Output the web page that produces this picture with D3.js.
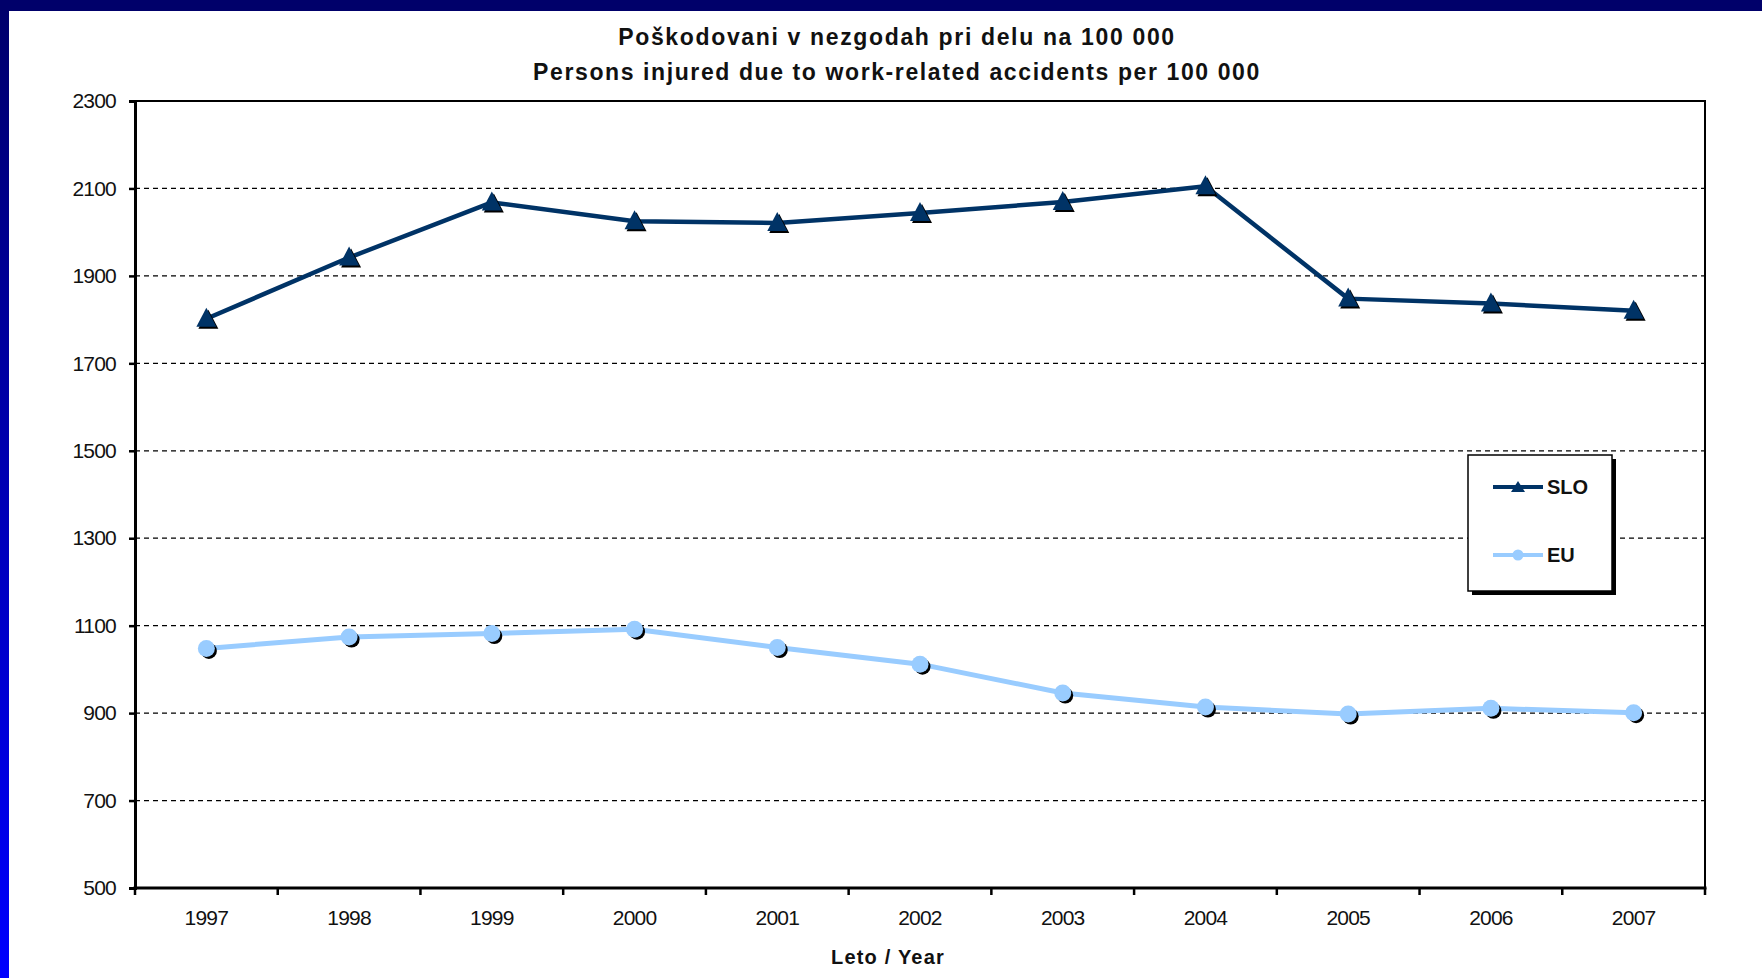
<!DOCTYPE html>
<html>
<head>
<meta charset="utf-8">
<script src="https://cdn.jsdelivr.net/npm/d3@7"></script>
<style>
  html, body { margin: 0; padding: 0; background: #ffffff; }
  svg { display: block; }
  text { font-family: "Liberation Sans", Arial, sans-serif; }
</style>
</head>
<body>
<svg id="chart" width="1762" height="978"></svg>
<script>
const years = ["1997","1998","1999","2000","2001","2002","2003","2004","2005","2006","2007"];
const sloValues = [1802, 1942, 2068, 2025, 2021, 2044, 2069, 2105, 1848, 1837, 1820];
const euValues  = [1048, 1074, 1082, 1092, 1050, 1012, 946, 914, 898, 911, 901];
const yTicks = [500, 700, 900, 1100, 1300, 1500, 1700, 1900, 2100, 2300];
const seriesNames = ["SLO", "EU"];
const titleLines = ["Poškodovani v nezgodah pri delu na 100 000", "Persons injured due to work-related accidents per 100 000"];
const xAxisTitle = "Leto / Year";

const W = 1762, H = 978;
const M = { left: 135, right: 1705, top: 101, bottom: 888 };
const svg = d3.select("#chart");

// background frame
const defs = svg.append("defs");
const grad = defs.append("linearGradient").attr("id", "leftGrad").attr("x1", 0).attr("y1", 0).attr("x2", 0).attr("y2", 1);
grad.append("stop").attr("offset", "0%").attr("stop-color", "#00006a");
grad.append("stop").attr("offset", "100%").attr("stop-color", "#0000ff");
svg.append("rect").attr("x", 0).attr("y", 0).attr("width", W).attr("height", H).attr("fill", "#ffffff");
svg.append("rect").attr("x", 0).attr("y", 0).attr("width", 9).attr("height", H).attr("fill", "url(#leftGrad)");
svg.append("rect").attr("x", 0).attr("y", 0).attr("width", W).attr("height", 11).attr("fill", "#00006a");

const x = d3.scaleBand().domain(years).range([M.left, M.right]).padding(0);
const y = d3.scaleLinear().domain([500, 2300]).range([M.bottom, M.top]);
const cx = d => x(d) + x.bandwidth() / 2;

// gridlines
svg.append("g").selectAll("line").data(yTicks.filter(v => v !== 500 && v !== 2300)).join("line")
  .attr("x1", M.left).attr("x2", M.right)
  .attr("y1", d => y(d)).attr("y2", d => y(d))
  .attr("stroke", "#000").attr("stroke-width", 1.3).attr("stroke-dasharray", "5,4");

// plot border top/right
svg.append("path")
  .attr("d", `M${M.left},${y(2300)}H${M.right}V${M.bottom}`)
  .attr("fill", "none").attr("stroke", "#000").attr("stroke-width", 2);

// left axis
const yAxis = svg.append("g").attr("transform", `translate(${M.left},0)`)
  .call(d3.axisLeft(y).tickValues(yTicks).tickSize(6).tickPadding(13).tickFormat(d3.format("d")));
yAxis.select(".domain").attr("stroke", "#000").attr("stroke-width", 3);
yAxis.selectAll(".tick line").attr("stroke", "#000").attr("stroke-width", 2.5);
yAxis.selectAll("text").attr("font-size", 21).attr("fill", "#111").attr("font-family", "\"Liberation Sans\", Arial, sans-serif").attr("letter-spacing", -0.8);

// bottom axis
const xAxis = svg.append("g").attr("transform", `translate(0,${M.bottom})`)
  .call(d3.axisBottom(x).tickSize(0).tickPadding(22));
xAxis.select(".domain").attr("stroke", "#000").attr("stroke-width", 3).attr("d", `M${M.left - 1.5},0H${M.right + 1.5}`);
xAxis.selectAll("text").attr("font-size", 21).attr("fill", "#111").attr("font-family", "\"Liberation Sans\", Arial, sans-serif").attr("letter-spacing", -0.8);
const boundaries = years.map(d => x(d)).concat([x.range()[1]]);
xAxis.selectAll(".bt").data(boundaries).join("line").attr("class", "bt")
  .attr("x1", d => d).attr("x2", d => d).attr("y1", 0).attr("y2", 7)
  .attr("stroke", "#000").attr("stroke-width", 2.5);

// titles
svg.append("text").attr("x", 897).attr("y", 45).attr("text-anchor", "middle")
  .attr("font-size", 23).attr("font-weight", "bold").attr("fill", "#111").attr("letter-spacing", 1.65).text(titleLines[0]);
svg.append("text").attr("x", 897).attr("y", 80).attr("text-anchor", "middle")
  .attr("font-size", 23).attr("font-weight", "bold").attr("fill", "#111").attr("letter-spacing", 1.6).text(titleLines[1]);
svg.append("text").attr("x", 888).attr("y", 964).attr("text-anchor", "middle")
  .attr("font-size", 20).attr("font-weight", "bold").attr("fill", "#111").attr("letter-spacing", 1.2).text(xAxisTitle);

const sloColor = "#003366", euColor = "#99ccff";
const tri = "M0,-11L10,8L-10,8Z";
const line = d3.line().x((d, i) => cx(years[i])).y(d => y(d));

// EU series
svg.append("path").datum(euValues).attr("d", line).attr("fill", "none")
  .attr("stroke", euColor).attr("stroke-width", 5).attr("stroke-linejoin", "round");
const euG = svg.append("g");
euG.selectAll(".sh").data(euValues).join("circle").attr("class", "sh")
  .attr("cx", (d, i) => cx(years[i]) + 2.5).attr("cy", d => y(d) + 2.5).attr("r", 8).attr("fill", "#000");
euG.selectAll(".mk").data(euValues).join("circle").attr("class", "mk")
  .attr("cx", (d, i) => cx(years[i])).attr("cy", d => y(d)).attr("r", 8.5).attr("fill", euColor);

// SLO series
svg.append("path").datum(sloValues).attr("d", line).attr("fill", "none")
  .attr("stroke", sloColor).attr("stroke-width", 4.5).attr("stroke-linejoin", "round");
const sloG = svg.append("g");
sloG.selectAll(".sh").data(sloValues).join("path").attr("class", "sh")
  .attr("d", tri).attr("transform", (d, i) => `translate(${cx(years[i]) + 2},${y(d) + 2})`).attr("fill", "#000");
sloG.selectAll(".mk").data(sloValues).join("path").attr("class", "mk")
  .attr("d", tri).attr("transform", (d, i) => `translate(${cx(years[i])},${y(d)})`).attr("fill", sloColor);

// legend
const lg = svg.append("g");
lg.append("rect").attr("x", 1472).attr("y", 459).attr("width", 144).attr("height", 136).attr("fill", "#000");
lg.append("rect").attr("x", 1468).attr("y", 455).attr("width", 144).attr("height", 136)
  .attr("fill", "#fff").attr("stroke", "#000").attr("stroke-width", 1.5);
const legendItems = [
  { name: seriesNames[0], color: sloColor, yy: 487, kind: "tri" },
  { name: seriesNames[1], color: euColor, yy: 555, kind: "circ" }
];
legendItems.forEach(it => {
  lg.append("line").attr("x1", 1493).attr("x2", 1543).attr("y1", it.yy).attr("y2", it.yy)
    .attr("stroke", it.color).attr("stroke-width", 4);
  if (it.kind === "tri") {
    lg.append("path").attr("d", "M0,-6L7,5L-7,5Z").attr("transform", `translate(1518,${it.yy})`).attr("fill", it.color);
  } else {
    lg.append("circle").attr("cx", 1518).attr("cy", it.yy).attr("r", 5.5).attr("fill", it.color);
  }
  lg.append("text").attr("x", 1547).attr("y", it.yy + 7).attr("font-size", 20).attr("font-weight", "bold")
    .attr("fill", "#111").text(it.name);
});
</script>
</body>
</html>
